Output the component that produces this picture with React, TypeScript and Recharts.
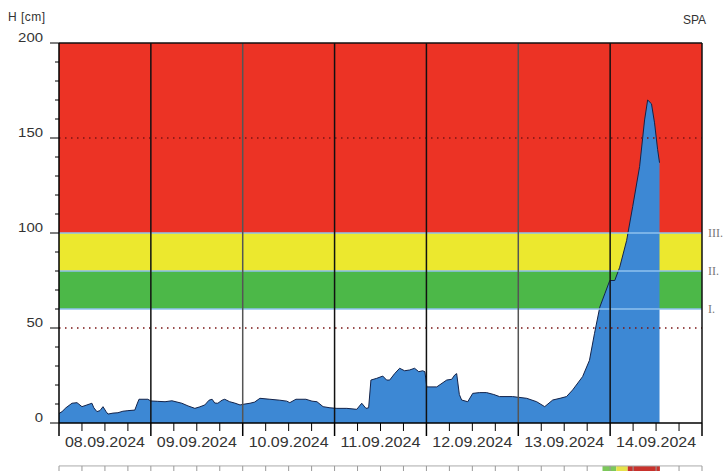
import React from 'react';
import { ComposedChart, Area, XAxis, YAxis, ReferenceArea, ReferenceLine } from 'recharts';

// hours since 08.09.2024 00:00
const hours = [0, 0.8, 1.8, 3.4, 4.7, 6, 7.3, 8.6, 9.1, 9.9, 10.7, 11.5, 12.3, 12.8, 14.1, 15.4, 16.7, 18, 19.8, 20.4, 20.9, 23.2, 24, 25.8, 27.7, 29.5, 32.1, 33.7, 35.5, 36.8, 38.1, 39.2, 40, 40.7, 41.5, 42.6, 43.3, 44.6, 45.9, 47.3, 48.6, 49.9, 51.1, 52.5, 55.1, 57.7, 59.5, 60.3, 61.9, 64.5, 66.1, 67.4, 69, 70.8, 72.6, 75.2, 77.8, 79.1, 80.2, 80.9, 81.5, 83, 84.6, 85.6, 86.4, 87.7, 89, 90.3, 91.6, 92.9, 94, 95, 95.6, 96.1, 98.7, 101.3, 102.6, 103.4, 103.9, 104.6, 105.2, 106.8, 108.1, 109.9, 111.7, 113.6, 115.1, 118.5, 122.2, 124.8, 126.9, 129, 130.9, 132.6, 134.2, 136.8, 138.6, 139.9, 141.3, 142.6, 143.9, 145.2, 146.5, 148.3, 149.9, 151.7, 153, 153.8, 154.8, 155.6, 156.4, 156.9];
const levels = [5, 6, 8, 10.4, 10.7, 8.6, 9.5, 10.4, 8, 6, 6.5, 8.6, 6, 4.7, 5.2, 5.4, 6.2, 6.5, 6.8, 10, 12.5, 12.5, 11.6, 11.4, 11.2, 11.7, 10.4, 9, 7.7, 8.5, 9.5, 12, 12.5, 10.5, 10.4, 12, 12.5, 11.2, 10.5, 9.5, 10, 10.4, 11, 13, 12.5, 12, 11.5, 10.7, 12.5, 12.5, 11.5, 11.2, 8.6, 8, 7.7, 7.7, 7.2, 10.4, 7.7, 8, 22.6, 23.5, 24.7, 22.6, 22.6, 26, 28.8, 27.5, 27.9, 28.8, 27, 27.5, 27, 19, 19, 22.6, 23, 25.3, 26, 15, 12.1, 11.2, 15.6, 16, 16, 15, 13.9, 13.9, 13, 11.2, 8.6, 12.1, 13, 13.9, 17.4, 24.4, 33, 47, 61, 68, 75, 75, 82, 96, 114, 135, 159.5, 170, 168, 158, 144, 137];

const dayLabels = ['08.09.2024', '09.09.2024', '10.09.2024', '11.09.2024', '12.09.2024', '13.09.2024', '14.09.2024'];
const yTicks = [0, 10, 20, 30, 40, 50, 60, 70, 80, 90, 100, 110, 120, 130, 140, 150, 160, 170, 180, 190, 200];
const xTicks = Array.from({ length: 29 }, (_, i) => i * 6);
const dayBoundaries = [24, 48, 72, 96, 120, 144];
const bands = [
  { from: 60, to: 80, name: 'I.' },
  { from: 80, to: 100, name: 'II.' },
  { from: 100, to: 200, name: 'III.' },
];
const alarmLevels = [60, 80, 100];
const alarmLabels = ['I.', 'II.', 'III.'];
const dottedLevels = [50, 150];
// status strip below the time axis (hours; state 1=I., 2=II., 3=III.)
const statusSegments = [
  { from: 142, to: 145.6, state: 1 },
  { from: 145.6, to: 148.6, state: 2 },
  { from: 148.6, to: 157, state: 3 },
];
const stripTop = -22.6;
const stripBottom = -27;

const data = hours.map((h, i) => ({ h, v: levels[i] }));

const bandFill = ['#4cb848', '#ece82e', '#ec3325'];
const statusFill = ['#ffffff', '#7cc85a', '#e6e24a', '#c8322c'];
const FONT = 'Liberation Sans, Arial, sans-serif';

const YTick = (props: any) => {
  const { x, y, payload } = props;
  const v = payload.value;
  const major = v % 50 === 0;
  const s = String(v);
  return (
    <g>
      <line x1={x - (major ? 9 : 4)} x2={x} y1={y} y2={y} stroke="#000" strokeWidth={1} />
      {major && (
        <text x={x - 16} y={y - 4} textAnchor="end" dominantBaseline="middle" fontSize={13} fontFamily={FONT} fill="#333"
          textLength={s.length * 8.3} lengthAdjust="spacingAndGlyphs">{s}</text>
      )}
    </g>
  );
};

const XTick = (props: any) => {
  const { x, y, payload } = props;
  const h = payload.value;
  const major = h % 24 === 0;
  const lbl = h % 24 === 12 ? dayLabels[(h - 12) / 24] : null;
  return (
    <g>
      <line x1={x} x2={x} y1={y} y2={y + (major ? 13 : 8)} stroke="#000" strokeWidth={major ? 1.5 : 1} />
      {lbl && (
        <text x={x} y={y + 20} textAnchor="middle" dominantBaseline="middle" fontSize={14} fontFamily={FONT} fill="#333"
          textLength={80} lengthAdjust="spacingAndGlyphs">{lbl}</text>
      )}
    </g>
  );
};

export default function App() {
  return (
    <div style={{ position: 'absolute', left: 0, top: 0, width: 725, height: 471, background: '#fff', overflow: 'hidden' }}>
      <div style={{ position: 'absolute', left: 8, top: 10, fontFamily: FONT, fontSize: 12, color: '#333', letterSpacing: 0.5 }}>H [cm]</div>
      <div style={{ position: 'absolute', left: 683, top: 13, fontFamily: FONT, fontSize: 12, color: '#333' }}>SPA</div>
      <ComposedChart width={725} height={471} data={data} margin={{ top: 43, right: 23, left: 0, bottom: 0 }} style={{ overflow: 'visible' }}>
        <XAxis dataKey="h" type="number" domain={[0, 168]} ticks={xTicks} interval={0} height={48}
          axisLine={{ stroke: '#000', strokeWidth: 1.5 }} tickLine={false} tickSize={0} tickMargin={0} tick={<XTick />} />
        <YAxis type="number" domain={[0, 200]} allowDataOverflow ticks={yTicks} interval={0} width={59}
          axisLine={{ stroke: '#000', strokeWidth: 1.5 }} tickLine={false} tickSize={0} tickMargin={0} tick={<YTick />} />
        {bands.map((b, i) => (
          <ReferenceArea key={b.name} x1={0} x2={168} y1={b.from} y2={b.to} fill={bandFill[i]} fillOpacity={1} stroke="none" />
        ))}
        <Area type="linear" dataKey="v" stroke="#13234a" strokeWidth={1} fill="#3d88d4" fillOpacity={1} isAnimationActive={false} dot={false} activeDot={false} />
        {alarmLevels.map((lv, i) => (
          <ReferenceLine key={lv} y={lv} stroke="#8fc2ef" strokeWidth={1.5}
            label={{ value: alarmLabels[i], position: 'right', fill: '#777', fontSize: 12, fontFamily: 'Liberation Serif, Times New Roman, serif', offset: 6 }} />
        ))}
        {dottedLevels.map((lv) => (
          <ReferenceLine key={lv} y={lv} stroke="#7a1414" strokeWidth={1.5} strokeDasharray="1.5 4.5" />
        ))}
        {dayBoundaries.map((d) => (
          <ReferenceLine key={d} x={d} stroke={d === 48 || d === 120 ? '#555' : '#111'} strokeWidth={1.5} />
        ))}
        <ReferenceLine y={200} stroke="#111" strokeWidth={1.5} />
        <ReferenceLine x={168} stroke="#111" strokeWidth={1.5} />
        {statusSegments.map((s) => (
          <ReferenceArea key={'s' + s.from} x1={s.from} x2={s.to} y1={stripBottom} y2={stripTop} fill={statusFill[s.state]} fillOpacity={1} stroke="none" ifOverflow="visible" />
        ))}
        <ReferenceLine segment={[{ x: 0, y: stripTop }, { x: 168, y: stripTop }]} stroke="#aaa" strokeWidth={1} ifOverflow="visible" />
        {xTicks.map((t) => (
          <ReferenceLine key={'t' + t} segment={[{ x: t, y: stripTop }, { x: t, y: stripBottom }]} stroke="#999" strokeWidth={1} ifOverflow="visible" />
        ))}
      </ComposedChart>
    </div>
  );
}
